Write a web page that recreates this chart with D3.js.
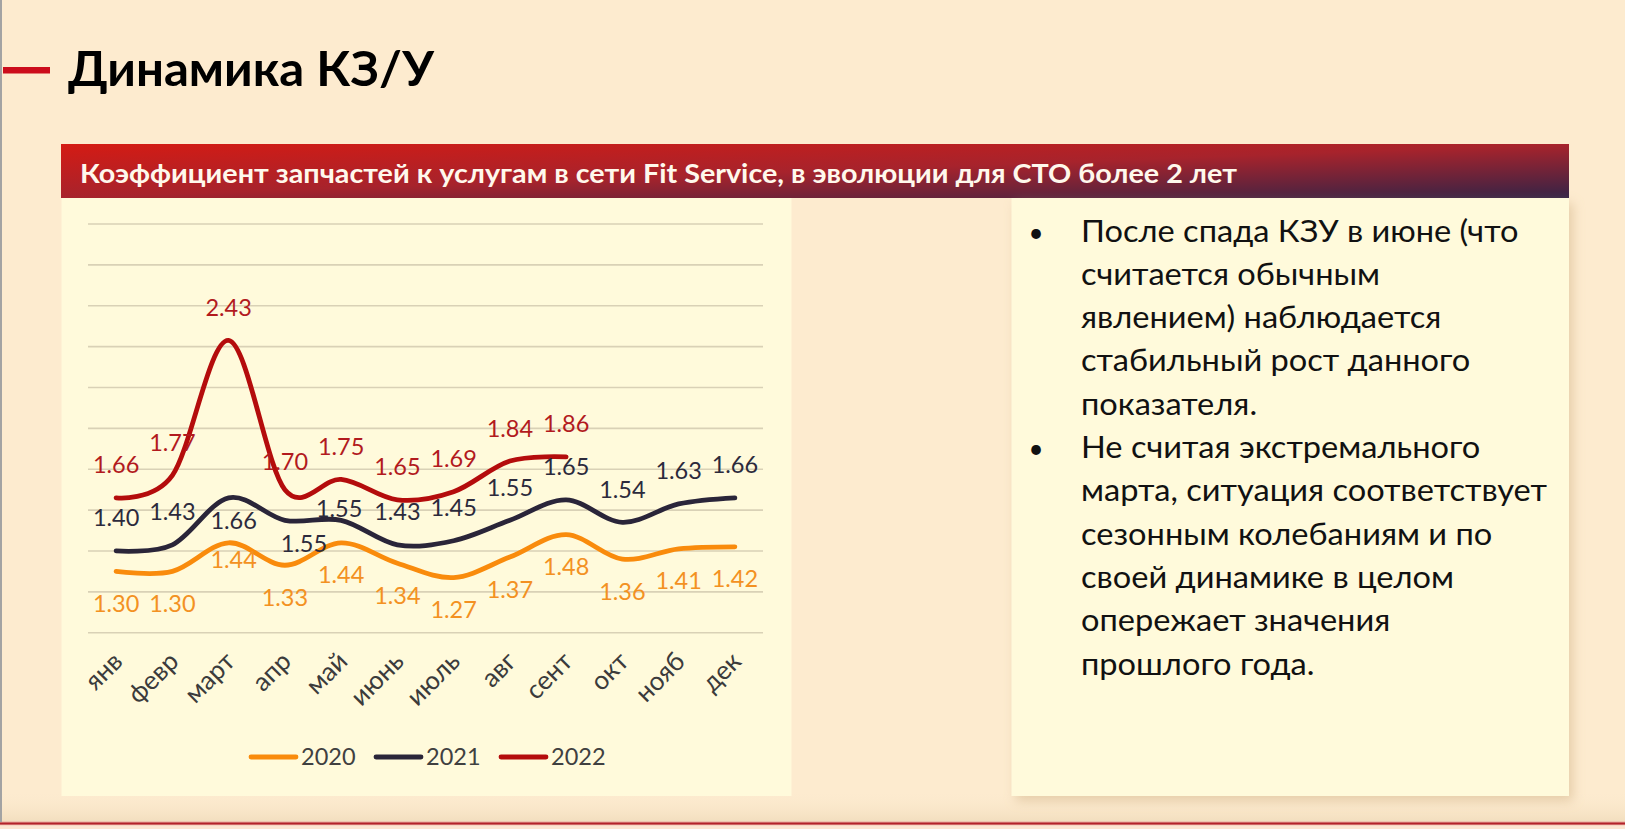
<!DOCTYPE html>
<html><head><meta charset="utf-8">
<script src="https://cdn.jsdelivr.net/npm/d3@7"></script>
<style>html,body{margin:0;padding:0;background:#FDEBCF;overflow:hidden}</style>
</head><body><svg id="c" width="1625" height="829"></svg>
<script>
// ---------- data ----------
const months = ["янв","февр","март","апр","май","июнь","июль","авг","сент","окт","нояб","дек"];
const years = ["2020","2021","2022"];
const v2020 = [1.30,1.30,1.44,1.33,1.44,1.34,1.27,1.37,1.48,1.36,1.41,1.42];
const v2021 = [1.40,1.43,1.66,1.55,1.55,1.43,1.45,1.55,1.65,1.54,1.63,1.66];
const v2022 = [1.66,1.77,2.43,1.70,1.75,1.65,1.69,1.84,1.86];
const gridValues = [1.0,1.2,1.4,1.6,1.8,2.0,2.2,2.4,2.6,2.8,3.0];
const titleText = "Динамика КЗ/У";
const headerText = "Коэффициент запчастей к услугам в сети Fit Service, в эволюции для СТО более 2 лет";
const bullet1 = ["После спада КЗУ в июне (что","считается обычным","явлением) наблюдается","стабильный рост данного","показателя."];
const bullet2 = ["Не считая экстремального","марта, ситуация соответствует","сезонным колебаниям и по","своей динамике в целом","опережает значения","прошлого года."];

// ---------- style / layout ----------
const seriesStyle = {
  "2020": {line:"#F98B0C", label:"#F39122", side: 1},
  "2021": {line:"#2A2539", label:"#2C2A3C", side:-1},
  "2022": {line:"#B40C0C", label:"#B21A1E", side:-1}
};
// manual label nudges (as in the original slide)
const labelNudges = [
  {year:"2021", i:2, dx:5,  dy:23},
  {year:"2021", i:3, dx:19, dy:23},
  {year:"2021", i:4, dx:-2, dy:-12},
  {year:"2020", i:2, dx:5,  dy:17},
  {year:"2022", i:3, dx:0,  dy:-28}
];
const FONT = "Lato, 'Open Sans', sans-serif";

const svg = d3.select("#c");
const defs = svg.append("defs");

// page background
svg.append("rect").attr("width",1625).attr("height",829).attr("fill","#FDEBCF");
const bandGrad = defs.append("linearGradient").attr("id","band").attr("x1",0).attr("y1",0).attr("x2",0).attr("y2",1);
bandGrad.append("stop").attr("offset",0).attr("stop-color","#FDEBCF").attr("stop-opacity",0);
bandGrad.append("stop").attr("offset",1).attr("stop-color","#F1DDBD");
svg.append("rect").attr("x",0).attr("y",790).attr("width",1625).attr("height",33).attr("fill","url(#band)");
// bottom line
svg.append("rect").attr("x",0).attr("y",821.5).attr("width",1625).attr("height",4).attr("fill","#E9A9A0");
svg.append("rect").attr("x",0).attr("y",822.5).attr("width",1625).attr("height",2).attr("fill","#B3242B");
svg.append("rect").attr("x",0).attr("y",825.5).attr("width",1625).attr("height",4).attr("fill","#FCE6D2");
// left gray border
svg.append("rect").attr("x",0).attr("y",0).attr("width",2).attr("height",822).attr("fill","#A3A3A3");

// red dash + title
svg.append("rect").attr("x",3).attr("y",67).attr("width",47).attr("height",6.5).attr("fill","#CC0D1C");
const title = svg.append("text").attr("x",68).attr("y",86).attr("font-family",FONT)
  .attr("font-weight",700).attr("font-size",48).attr("fill","#000").text(titleText);

function fit(sel, w){ sel.attr("textLength", w).attr("lengthAdjust","spacingAndGlyphs"); }
fit(title, 366);

// header bar
const hg = defs.append("linearGradient").attr("id","hdr").attr("x1",0).attr("y1",0).attr("x2",1).attr("y2",1);
hg.append("stop").attr("offset",0).attr("stop-color","#D41B14");
hg.append("stop").attr("offset",0.5).attr("stop-color","#A7232C");
hg.append("stop").attr("offset",1).attr("stop-color","#352346");
svg.append("rect").attr("x",61).attr("y",144).attr("width",1508).attr("height",54).attr("fill","url(#hdr)");
const hdr = svg.append("text").attr("x",80).attr("y",182.5).attr("font-family",FONT)
  .attr("font-weight",700).attr("font-size",27).attr("fill","#FFF8EC").text(headerText);
fit(hdr, 1157);

// panels
const sh = defs.append("filter").attr("id","sh").attr("x","-10%").attr("y","-10%").attr("width","130%").attr("height","130%");
sh.append("feDropShadow").attr("dx",4).attr("dy",5).attr("stdDeviation",6).attr("flood-color","#C9A878").attr("flood-opacity",0.45);
svg.append("rect").attr("x",61.5).attr("y",198).attr("width",730).attr("height",598).attr("fill","#FFFADB");
svg.append("rect").attr("x",1011.5).attr("y",198).attr("width",1557.5-1000).attr("height",598)
  .attr("fill","#FFFADB").attr("filter","url(#sh)");

// ---------- chart ----------
const x = d3.scalePoint().domain(months).range([88,763]).padding(0.5);
const y = d3.scaleLinear().domain([1.0,3.0]).range([632.7,224]);

const g = svg.append("g");
g.selectAll("line.grid").data(gridValues).join("line").attr("class","grid")
  .attr("x1",88).attr("x2",763).attr("y1",d=>y(d)).attr("y2",d=>y(d))
  .attr("stroke","#D9D1B6").attr("stroke-width",1.6);

const series = [
  {year:"2020", values:v2020},
  {year:"2021", values:v2021},
  {year:"2022", values:v2022}
];
const line = d3.line().x((d,i)=>x(months[i])).y(d=>y(d)).curve(d3.curveCardinal.tension(0));
g.selectAll("path.s").data(series).join("path").attr("class","s")
  .attr("d",d=>line(d.values)).attr("fill","none")
  .attr("stroke",d=>seriesStyle[d.year].line).attr("stroke-width",4.8)
  .attr("stroke-linecap","round").attr("stroke-linejoin","round");

// data labels
series.forEach(s=>{
  const st = seriesStyle[s.year];
  g.selectAll(null).data(s.values).join("text")
    .attr("x",(d,i)=>{ const n = labelNudges.find(o=>o.year===s.year&&o.i===i); return x(months[i]) + (n?n.dx:0); })
    .attr("y",(d,i)=>{ const n = labelNudges.find(o=>o.year===s.year&&o.i===i); return y(d) + (n?n.dy:(st.side>0?32:-33)); })
    .attr("dy","0.36em").attr("text-anchor","middle")
    .attr("font-family",FONT).attr("font-size",23.5).attr("fill",st.label)
    .text(d=>d.toFixed(2));
});

// x axis labels
g.selectAll("text.xl").data(months).join("text").attr("class","xl")
  .attr("transform",d=>`translate(${x(d)+8},663) rotate(-45)`)
  .attr("text-anchor","end").attr("font-family",FONT).attr("font-size",26).attr("fill","#3B3B3B")
  .text(d=>d);

// legend
const leg = g.selectAll("g.leg").data(years).join("g").attr("class","leg")
  .attr("transform",(d,i)=>`translate(${251+i*125},757)`);
leg.append("line").attr("x1",0).attr("x2",45).attr("y1",0).attr("y2",0)
  .attr("stroke",d=>seriesStyle[d].line).attr("stroke-width",4.8).attr("stroke-linecap","round");
leg.append("text").attr("x",50).attr("dy","0.36em").attr("font-family",FONT).attr("font-size",23.5)
  .attr("fill","#404040").text(d=>d);

// ---------- bullet text ----------
const tg = svg.append("g").attr("font-family",FONT).attr("font-size",30).attr("fill","#111");
const allLines = [];
bullet1.forEach((t,i)=>allLines.push({t, first:i===0}));
bullet2.forEach((t,i)=>allLines.push({t, first:i===0}));
const lt = tg.selectAll("text.ln").data(allLines).join("text").attr("class","ln")
  .attr("x",1081).attr("y",(d,i)=>241.5+i*43.3).text(d=>d.t);
// uniform horizontal scaling so the widest line matches the original width
const maxW = d3.max(lt.nodes(), n=>n.getComputedTextLength());
const k = 466/maxW;
lt.each(function(){ const w=this.getComputedTextLength(); d3.select(this).attr("textLength", w*k).attr("lengthAdjust","spacingAndGlyphs"); });
tg.selectAll("text.bl").data(allLines.map((d,i)=>({...d,i})).filter(d=>d.first)).join("text").attr("class","bl")
  .attr("x",1036).attr("y",d=>241.5+d.i*43.3).attr("text-anchor","middle").attr("font-size",26).text("•");
</script></body></html>
